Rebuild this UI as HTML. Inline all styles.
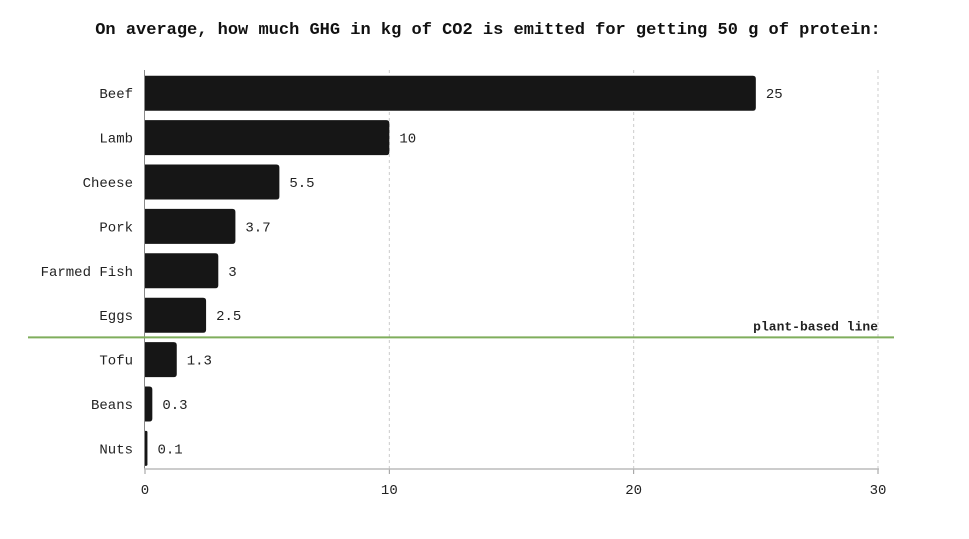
<!DOCTYPE html>
<html><head><meta charset="utf-8"><style>
html,body{margin:0;padding:0;background:#fff;}
svg{display:block;font-family:"Liberation Mono","DejaVu Sans Mono",monospace;}
</style></head><body>
<svg id="chart" width="969" height="539">
<text x="488" y="34" text-anchor="middle" font-size="17" font-weight="bold" fill="#111">On average, how much GHG in kg of CO2 is emitted for getting 50 g of protein:</text>
<g id="grid"></g><g id="bars"></g><g id="axes"></g>
</svg>
<script>
const categories=["Beef","Lamb","Cheese","Pork","Farmed Fish","Eggs","Tofu","Beans","Nuts"];
const values=[25,10,5.5,3.7,3,2.5,1.3,0.3,0.1];
const valueLabels=["25","10","5.5","3.7","3","2.5","1.3","0.3","0.1"];
const ticks=[0,10,20,30];
const plantIndex=6;
const NS="http://www.w3.org/2000/svg";
const x0=145,x1=878,xmax=30,yTop=71,step=44.4,bh=35;
const xs=v=>x0+(x1-x0)*v/xmax;
const yc=i=>yTop+step*i+step/2;
function mk(t,a,p){const e=document.createElementNS(NS,t);for(const k in a)e.setAttribute(k,a[k]);p.appendChild(e);return e;}
const grid=document.getElementById('grid'),bars=document.getElementById('bars'),axes=document.getElementById('axes');
ticks.forEach(t=>{
 if(t>0){const g=mk('line',{x1:xs(t),x2:xs(t),y1:70,y2:469,stroke:'#ccc','stroke-dasharray':'3,3'},grid);
 
 }
 const tk=mk('line',{x1:xs(t),x2:xs(t),y1:469,y2:474,stroke:'#999'},axes);
 
 
 const lb=mk('text',{x:xs(t),y:494,'text-anchor':'middle','font-size':'14',fill:'#222'},axes);lb.textContent=t;
 
 
});
categories.forEach((c,i)=>{
 const y=yc(i),w=xs(values[i])-x0;
 const r=Math.min(3,w/2);
 const p=mk('path',{d:`M${x0},${y-bh/2}H${x0+w-r}Q${x0+w},${y-bh/2} ${x0+w},${y-bh/2+r}V${y+bh/2-r}Q${x0+w},${y+bh/2} ${x0+w-r},${y+bh/2}H${x0}Z`,fill:'#161616'},bars);
 
 
 const v=mk('text',{x:x0+w+10,y:y+5,'font-size':'14',fill:'#222'},bars);v.textContent=valueLabels[i];
 
 
 const l=mk('text',{x:133,y:y+5,'text-anchor':'end','font-size':'14',fill:'#222'},axes);l.textContent=c;
 
 
});
const ya=mk('line',{x1:144.5,x2:144.5,y1:70,y2:469,stroke:'#888'},axes);


const xa=mk('line',{x1:144,x2:879,y1:469,y2:469,stroke:'#bbb','stroke-width':'1.5'},axes);


const py=yTop+step*plantIndex;
const pl=mk('line',{x1:28,x2:894,y1:py,y2:py,stroke:'#7fae5c','stroke-width':'2'},axes);


const pt=mk('text',{x:878,y:py-7,'text-anchor':'end','font-size':'13','font-weight':'bold',fill:'#222'},axes);pt.textContent='plant-based line';


</script>
</body></html>
